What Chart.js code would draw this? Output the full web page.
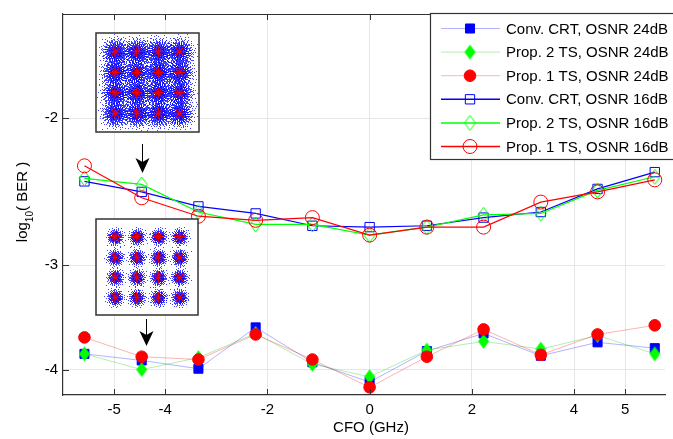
<!DOCTYPE html>
<html>
<head>
<meta charset="utf-8">
<script src="https://cdn.jsdelivr.net/npm/chart.js@4/dist/chart.umd.min.js"></script>
<style>
	html, body { margin: 0; padding: 0; background: #fff; }
</style>
</head>
<body>
<canvas id="main-chart" width="673" height="439"></canvas>
<script>
// CFO positions (GHz) and log10(BER) per curve
const cfo = [-5.58, -4.46, -3.35, -2.23, -1.12, 0, 1.12, 2.23, 3.35, 4.46, 5.58];

const crt24 = [-3.83, -3.90, -3.99, -3.56, -3.92, -4.14, -3.80, -3.62, -3.85, -3.71, -3.77];
const ts2_24 = [-3.83, -4.00, -3.87, -3.62, -3.94, -4.08, -3.79, -3.70, -3.78, -3.64, -3.83];
const ts1_24 = [-3.66, -3.86, -3.89, -3.63, -3.89, -4.20, -3.86, -3.58, -3.84, -3.63, -3.54];

const crt16 = [-2.38, -2.45, -2.55, -2.60, -2.69, -2.70, -2.69, -2.63, -2.59, -2.43, -2.32];
const ts2_16 = [-2.36, -2.40, -2.59, -2.68, -2.68, -2.76, -2.70, -2.61, -2.60, -2.44, -2.35];
const ts1_16 = [-2.28, -2.49, -2.62, -2.65, -2.63, -2.76, -2.70, -2.70, -2.52, -2.45, -2.37];

const labels = [
	'Conv. CRT, OSNR 24dB',
	'Prop. 2 TS, OSNR 24dB',
	'Prop. 1 TS, OSNR 24dB',
	'Conv. CRT, OSNR 16dB',
	'Prop. 2 TS, OSNR 16dB',
	'Prop. 1 TS, OSNR 16dB'
];

const xTicks = [-5, -4, -2, 0, 2, 4, 5];
const yTicks = [-2, -3, -4];

// the BER axis is a log(-log) scale
function T(v) { return Math.log10(-v); }

function pts(ys) {
	return ys.map((y, i) => ({ x: cfo[i], y: T(y) }));
}

function diamond(w, h, color, filled) {
	var c = document.createElement('canvas');
	c.width = w + 2;
	c.height = h + 2;
	var g = c.getContext('2d');
	g.beginPath();
	g.moveTo(c.width / 2, 1);
	g.lineTo(c.width - 1, c.height / 2);
	g.lineTo(c.width / 2, c.height - 1);
	g.lineTo(1, c.height / 2);
	g.closePath();
	if (filled) {
		g.fillStyle = color;
		g.fill();
	} else {
		g.strokeStyle = color;
		g.lineWidth = 1;
		g.stroke();
	}
	return c;
}

const BLUE = '#0000ff', GREEN = '#00ff00', RED = '#ff0000';

const styles = [
	{ data: crt24, color: BLUE, line: 'rgba(0,0,255,0.3)', style: 'rect', radius: 6.4, fill: true, order: 3 },
	{ data: ts2_24, color: GREEN, line: 'rgba(0,200,0,0.3)', style: diamond(11, 15, GREEN, true), radius: 7, fill: true, order: 2 },
	{ data: ts1_24, color: RED, line: 'rgba(255,0,0,0.3)', style: 'circle', radius: 5.8, fill: true, order: 1 },
	{ data: crt16, color: BLUE, line: BLUE, style: 'rect', radius: 6.6, fill: false, order: 6 },
	{ data: ts2_16, color: GREEN, line: GREEN, style: diamond(11, 15, GREEN, false), radius: 7, fill: false, order: 5 },
	{ data: ts1_16, color: RED, line: RED, style: 'circle', radius: 7, fill: false, order: 4 }
];

const datasets = styles.map((s, i) => ({
	label: labels[i],
	data: pts(s.data),
	order: s.order,
	borderColor: s.line,
	borderWidth: s.fill ? 1 : 1.2,
	pointStyle: s.style,
	pointRadius: s.radius,
	pointBorderColor: s.color,
	pointBorderWidth: 1,
	pointBackgroundColor: s.fill ? s.color : 'rgba(0,0,0,0)',
	tension: 0
}));

// constellation cloud: deterministic R2 sequence through Box-Muller
function drawInset(ctx, x0, y0, w, h, cx, cy, sigma, n) {
	ctx.save();
	ctx.fillStyle = '#fff';
	ctx.fillRect(x0, y0, w, h);
	ctx.beginPath();
	ctx.rect(x0 + 1, y0 + 1, w - 2, h - 2);
	ctx.clip();
	ctx.fillStyle = 'rgba(0,0,255,0.75)';
	var k = 0;
	cx.forEach(px => {
		cy.forEach(py => {
			for (var m = 0; m < n; m++, k++) {
				var u1 = ((k + 1) * 0.7548776662) % 1;
				var u2 = ((k + 1) * 0.5698402910) % 1;
				var r = sigma * Math.sqrt(-2 * Math.log(1 - u1 * 0.999));
				var a = 2 * Math.PI * u2;
				ctx.fillRect(Math.round(px + r * Math.cos(a)), Math.round(py + r * Math.sin(a)), 1, 1);
			}
		});
	});
	ctx.strokeStyle = '#ee0000';
	ctx.lineWidth = 1.2;
	cx.forEach(px => {
		cy.forEach(py => {
			ctx.beginPath();
			for (var a = 0; a < 4; a++) {
				var dx = 5.5 * Math.cos(a * Math.PI / 4), dy = 5.5 * Math.sin(a * Math.PI / 4);
				ctx.moveTo(px - dx, py - dy);
				ctx.lineTo(px + dx, py + dy);
			}
			ctx.stroke();
		});
	});
	ctx.restore();
	ctx.strokeStyle = '#333';
	ctx.lineWidth = 1.5;
	ctx.strokeRect(x0, y0, w, h);
}

function drawArrow(ctx, x, y1, y2) {
	ctx.strokeStyle = '#000';
	ctx.lineWidth = 1;
	ctx.beginPath();
	ctx.moveTo(x, y1);
	ctx.lineTo(x, y2 - 8);
	ctx.stroke();
	ctx.fillStyle = '#000';
	ctx.beginPath();
	ctx.moveTo(x, y2);
	ctx.lineTo(x - 7, y2 - 15);
	ctx.lineTo(x, y2 - 11);
	ctx.lineTo(x + 7, y2 - 15);
	ctx.closePath();
	ctx.fill();
}

const decor = {
	id: 'decor',
	afterDatasetsDraw(chart) {
		const ctx = chart.ctx, a = chart.chartArea;
		const xs = chart.scales.x, ys = chart.scales.y;
		ctx.save();
		// frame top and inner ticks
		ctx.strokeStyle = '#333';
		ctx.lineWidth = 1;
		ctx.beginPath();
		ctx.moveTo(a.left, a.top + 0.5);
		ctx.lineTo(a.right, a.top + 0.5);
		xTicks.forEach(v => {
			var px = Math.round(xs.getPixelForValue(v)) + 0.5;
			ctx.moveTo(px, a.bottom);
			ctx.lineTo(px, a.bottom - 6);
			ctx.moveTo(px, a.top);
			ctx.lineTo(px, a.top + 6);
		});
		yTicks.forEach(v => {
			var py = Math.round(ys.getPixelForValue(T(v))) + 0.5;
			ctx.moveTo(a.left, py);
			ctx.lineTo(a.left + 6, py);
		});
		ctx.stroke();

		drawInset(ctx, 96, 33, 103, 99, [115, 136.7, 158.3, 179.3], [51.7, 72.3, 92.7, 113.3], 6.2, 650);
		drawInset(ctx, 96, 219, 102, 96, [115, 136.7, 158.3, 179.3], [236.7, 257.3, 277.3, 297.3], 3.6, 320);
		drawArrow(ctx, Math.round(xs.getPixelForValue(-4.46)) + 0.5, 144, 173);
		drawArrow(ctx, Math.round(xs.getPixelForValue(-4.38)) + 0.5, 319, 346);

		// legend box
		ctx.fillStyle = '#fff';
		ctx.fillRect(430, 13, 260, 146);
		ctx.strokeStyle = '#333';
		ctx.lineWidth = 1.2;
		ctx.strokeRect(430.5, 13.5, 260, 146);
		ctx.font = '15px "Liberation Sans", Arial, sans-serif';
		ctx.textBaseline = 'middle';
		styles.forEach((s, i) => {
			var y = 28.5 + i * 23.6;
			ctx.strokeStyle = s.line;
			ctx.lineWidth = s.fill ? 1 : 1.5;
			ctx.beginPath();
			ctx.moveTo(441, y);
			ctx.lineTo(500, y);
			ctx.stroke();
			ctx.strokeStyle = s.color;
			ctx.fillStyle = s.fill ? s.color : 'rgba(0,0,0,0)';
			ctx.lineWidth = 1;
			Chart.helpers.drawPoint(ctx, { pointStyle: s.style, radius: s.radius, rotation: 0, borderWidth: 1 }, 470, y);
			ctx.fillStyle = '#000';
			ctx.fillText(labels[i], 506, y + 1);
		});

		// axis titles
		ctx.fillStyle = '#000';
		ctx.textAlign = 'center';
		ctx.fillText('CFO (GHz)', 371, 428);
		ctx.translate(22.5, 202);
		ctx.rotate(-Math.PI / 2);
		var w1 = ctx.measureText('log').width;
		ctx.font = '10px "Liberation Sans", Arial, sans-serif';
		var w2 = ctx.measureText('10').width;
		ctx.font = '15px "Liberation Sans", Arial, sans-serif';
		var w3 = ctx.measureText('( BER )').width;
		var x0 = -(w1 + w2 + w3) / 2;
		ctx.textAlign = 'left';
		ctx.fillText('log', x0, 0);
		ctx.font = '10px "Liberation Sans", Arial, sans-serif';
		ctx.fillText('10', x0 + w1, 8);
		ctx.font = '15px "Liberation Sans", Arial, sans-serif';
		ctx.fillText('( BER )', x0 + w1 + w2, 0);
		ctx.restore();
	}
};

const chart = new Chart(document.getElementById('main-chart'), {
	type: 'line',
	data: { datasets: datasets },
	options: {
		responsive: false,
		animation: false,
		devicePixelRatio: 1,
		layout: { padding: { left: 0, top: 9, right: 0, bottom: 0 } },
		plugins: { legend: { display: false }, tooltip: { enabled: false } },
		scales: {
			x: {
				type: 'linear',
				min: -6,
				max: 5.78,
				afterBuildTicks: s => { s.ticks = xTicks.map(v => ({ value: v })); },
				afterFit: s => { s.height = 44; },
				grid: { color: '#e6e6e6', drawTicks: false },
				border: { color: '#333', width: 1.2 },
				ticks: {
					padding: 6,
					autoSkip: false,
					maxRotation: 0,
					color: '#000',
					font: { family: '"Liberation Sans", Arial, sans-serif', size: 15 },
					callback: v => String(v)
				}
			},
			y: {
				type: 'linear',
				reverse: true,
				min: T(-1.5),
				max: T(-4.29),
				afterBuildTicks: s => { s.ticks = yTicks.map(v => ({ value: T(v) })); },
				afterFit: s => { s.width = 63; },
				grid: { color: '#e6e6e6', drawTicks: false },
				border: { color: '#333', width: 1.2 },
				ticks: {
					padding: 5,
					color: '#000',
					font: { family: '"Liberation Sans", Arial, sans-serif', size: 15 },
					callback: v => String(-Math.round(Math.pow(10, v)))
				}
			}
		}
	},
	plugins: [decor]
});
</script>
</body>
</html>
